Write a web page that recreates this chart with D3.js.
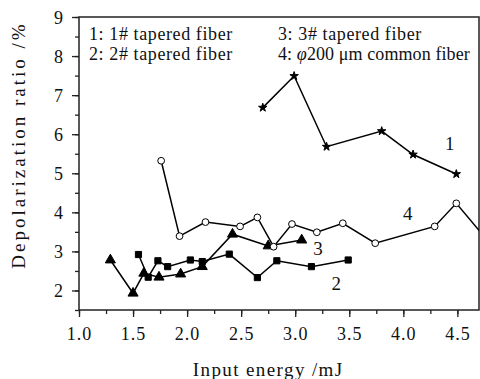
<!DOCTYPE html>
<html>
<head>
<meta charset="utf-8">
<script src="https://cdn.jsdelivr.net/npm/d3@7"></script>
<style>
  body { margin: 0; background: #fff; }
</style>
</head>
<body>
<div id="chart"></div>
<script>
// series 1: 1# tapered fiber (stars)
const s1X = [2.70, 2.99, 3.29, 3.80, 4.09, 4.49];
const s1Y = [6.68, 7.49, 5.68, 6.08, 5.48, 4.98];
// series 2: 2# tapered fiber (squares)
const s2X = [1.55, 1.64, 1.73, 1.82, 2.03, 2.14, 2.39, 2.65, 2.83, 3.15, 3.49];
const s2Y = [2.92, 2.34, 2.76, 2.61, 2.78, 2.74, 2.93, 2.33, 2.76, 2.61, 2.78];
// series 3: 3# tapered fiber (triangles)
const s3X = [1.29, 1.50, 1.60, 1.74, 1.94, 2.14, 2.42, 2.75, 3.06];
const s3Y = [2.78, 1.93, 2.44, 2.34, 2.42, 2.61, 3.44, 3.14, 3.29];
// series 4: phi 200 um common fiber (open circles)
const s4X = [1.76, 1.93, 2.17, 2.49, 2.65, 2.80, 2.97, 3.20, 3.44, 3.74, 4.29, 4.49, 4.80];
const s4Y = [5.32, 3.39, 3.75, 3.64, 3.87, 3.12, 3.70, 3.49, 3.72, 3.21, 3.64, 4.23, 3.21];

const xMajor = [1.0, 1.5, 2.0, 2.5, 3.0, 3.5, 4.0, 4.5];
const xMinor = d3.range(1.0, 4.71, 0.25);
const yMajor = [2, 3, 4, 5, 6, 7, 8, 9];
const yMinor = d3.range(1.5, 9.01, 0.5);

const serif = '"Liberation Serif", "DejaVu Serif", "Times New Roman", serif';
const width = 480, height = 379;
const margin = { top: 17, right: 1, bottom: 69, left: 79 };

const svg = d3.select('#chart').append('svg')
  .attr('width', width)
  .attr('height', height);

const x = d3.scaleLinear().domain([1, 4.7]).range([margin.left, width - margin.right]);
const y = d3.scaleLinear().domain([1.5, 9]).range([height - margin.bottom, margin.top]);

svg.append('clipPath').attr('id', 'clip')
  .append('rect')
  .attr('x', margin.left).attr('y', margin.top)
  .attr('width', x(4.7) - margin.left).attr('height', y(1.5) - margin.top);

// axes
const xAxis = svg.append('g')
  .attr('transform', `translate(0,${y(1.5)})`)
  .call(d3.axisBottom(x).tickValues(xMajor).tickFormat(d3.format('.1f')).tickSize(7).tickSizeOuter(0).tickPadding(10));
svg.append('g')
  .attr('transform', `translate(0,${y(1.5)})`)
  .call(d3.axisBottom(x).tickValues(xMinor).tickFormat('').tickSize(4).tickSizeOuter(0));

const yAxis = svg.append('g')
  .attr('transform', `translate(${x(1)},0)`)
  .call(d3.axisLeft(y).tickValues(yMajor).tickFormat(d3.format('d')).tickSize(7).tickSizeOuter(0).tickPadding(9));
svg.append('g')
  .attr('transform', `translate(${x(1)},0)`)
  .call(d3.axisLeft(y).tickValues(yMinor).tickFormat('').tickSize(4).tickSizeOuter(0));

svg.selectAll('.domain').remove();
svg.selectAll('.tick line').attr('stroke', '#222').attr('stroke-width', 1.3);
xAxis.selectAll('text').style('font-size', '18px').style('letter-spacing', '1px');
yAxis.selectAll('text').style('font-size', '18px').attr('dy', '0.36em');

// frame
svg.append('rect')
  .attr('x', x(1)).attr('y', y(9))
  .attr('width', x(4.7) - x(1)).attr('height', y(1.5) - y(9))
  .attr('fill', 'none').attr('stroke', '#222').attr('stroke-width', 1.5);

// axis titles
svg.append('text')
  .attr('x', x(2.75)).attr('y', 376)
  .attr('text-anchor', 'middle')
  .style('font-size', '19px').style('letter-spacing', '1.4px')
  .text('Input energy /mJ');

svg.append('text')
  .attr('transform', 'translate(25,145) rotate(-90)')
  .attr('text-anchor', 'middle')
  .style('font-size', '19px').style('letter-spacing', '3px')
  .text('Depolarization ratio /%');

// series
const line = d3.line().x(d => x(d[0])).y(d => y(d[1]));
const series = [
  { xs: s1X, ys: s1Y, sym: d3.symbolStar, size: 22, fill: '#000' },
  { xs: s2X, ys: s2Y, sym: d3.symbolSquare, size: 38, fill: '#000' },
  { xs: s3X, ys: s3Y, sym: d3.symbolTriangle, size: 44, fill: '#000' },
  { xs: s4X, ys: s4Y, sym: d3.symbolCircle, size: 36, fill: '#fff' },
];

const plot = svg.append('g').attr('clip-path', 'url(#clip)');
series.forEach(s => {
  const pts = s.xs.map((v, i) => [v, s.ys[i]]);
  plot.append('path')
    .datum(pts)
    .attr('d', line)
    .attr('fill', 'none')
    .attr('stroke', '#000')
    .attr('stroke-width', 1.5);
});
series.forEach(s => {
  const pts = s.xs.map((v, i) => [v, s.ys[i]]);
  plot.selectAll(null)
    .data(pts)
    .enter()
    .append('path')
    .attr('transform', d => `translate(${x(d[0])},${y(d[1])})`)
    .attr('d', d3.symbol().type(s.sym).size(s.size))
    .attr('fill', s.fill)
    .attr('stroke', '#000')
    .attr('stroke-width', 1);
});

// curve labels
const curveLabels = [
  { t: '1', x: 4.43, y: 5.60 },
  { t: '4', x: 4.04, y: 3.80 },
  { t: '3', x: 3.21, y: 2.91 },
  { t: '2', x: 3.38, y: 2.01 },
];
svg.selectAll('.clabel')
  .data(curveLabels)
  .enter()
  .append('text')
  .attr('class', 'clabel')
  .attr('x', d => x(d.x)).attr('y', d => y(d.y))
  .attr('text-anchor', 'middle')
  .style('font-size', '19px')
  .text(d => d.t);

// legend
const legend = svg.append('g');
legend.append('text').attr('x', 89).attr('y', 40).text('1: 1# tapered fiber');
legend.append('text').attr('x', 278).attr('y', 40).text('3: 3# tapered fiber');
legend.append('text').attr('x', 89).attr('y', 60).text('2: 2# tapered fiber');
const l4 = legend.append('text').attr('x', 278).attr('y', 60);
l4.append('tspan').text('4: ');
l4.append('tspan').style('font-style', 'italic').text('\u03C6');
l4.append('tspan').text('200 \u03BCm common fiber');
legend.selectAll('text').style('font-size', '18px').style('letter-spacing', '0.6px');
l4.style('letter-spacing', '0.1px');

svg.selectAll('text')
  .style('font-family', serif)
  .attr('fill', '#111');
</script>
</body>
</html>
